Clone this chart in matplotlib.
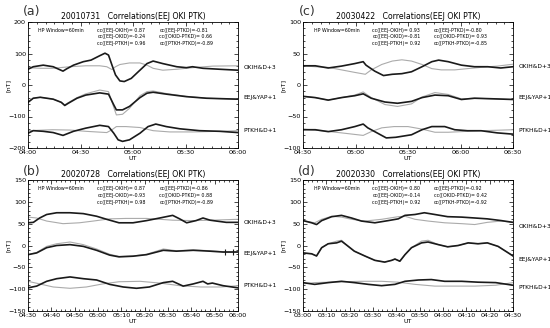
import matplotlib
matplotlib.use('Agg')
import matplotlib.pyplot as plt
from matplotlib.ticker import MultipleLocator

plt.rcParams['font.family'] = ['Liberation Sans Narrow', 'DejaVu Sans']

# ---- panel (a) 20010731, minutes after 04:00 ----
a_okih_t = [0,3,8.7,14.4,20,22,26,31.6,36,41,44,46,48,50,52.5,55,59,63,68,71.5,77,85,90.5,94,100,109.5,120]
a_okih_v = [50,58,63,58,44,51,63,74,79,93,101,95,63,32,13,11,21,42,68,76,68,58,55,58,53,50,47]
a_okid_t = [0,7,14,24,33,41,45,48,50,52.5,58,64,68,71.5,77,85,94,105.6,120]
a_okid_v = [55,53,53,58,61,61,58,49,58,65,70,70,63,53,47,50,55,60,61]
a_eej_t = [0,3,7,14.4,19,21,23,28,33,41,46,49,50.5,54,58,64,68,71.5,79,90.5,102,120]
a_eej_v = [-55,-42,-39,-45,-55,-65,-58,-42,-32,-25,-29,-63,-79,-79,-68,-40,-26,-23,-29,-37,-42,-45]
a_yap_v = [-55,-42,-39,-45,-55,-63,-56,-40,-28,-16,-21,-71,-95,-93,-74,-34,-21,-19,-27,-36,-42,-45]
a_ptkh_t = [0,3,8.7,14.4,20,26,33,41,46,49,51.5,54,58,64,68.6,73,79,86.7,98,109.5,120]
a_ptkh_v = [-153,-145,-147,-151,-160,-147,-137,-128,-132,-153,-174,-179,-174,-153,-132,-124,-132,-139,-145,-147,-151]
a_ptkd_t = [0,14,24,33,45,48,50.5,56,64,71.5,81,94,109.5,120]
a_ptkd_v = [-145,-142,-143,-147,-151,-142,-132,-132,-135,-145,-149,-149,-147,-145]

# ---- panel (c) 20030422, minutes after 04:30 ----
c_okih_t = [0,7,14.4,22,29.6,34.4,36,41,46,51,56.5,62,68,73.6,77.5,83,90.5,98,105.6,113,120]
c_okih_v = [30.5,30.5,27,30,34,37,31.5,22,15,17,18,21,29,37,39.5,37,31.5,29,29,27,29]
c_okid_t = [0,7,14.4,22,29.6,35.6,39,45,51,56.5,62,68,73.6,79,86.7,94,101.8,111,120]
c_okid_v = [30.5,29,28,24,20,17,24,32.6,38,40,38,32.6,26,24,24,26,28,30,33]
c_eej_t = [0,7,14.4,22,29.6,34.4,39,46.8,54,62,68,75.4,83,90.5,98,109.5,120]
c_eej_v = [-18,-20,-24,-20,-17,-14,-21,-27,-29,-26,-20,-16,-17,-23,-21,-22,-23]
c_yap_v = [-18,-20,-24,-20,-16,-11,-20,-31,-34,-30,-19,-12,-15,-22,-21,-22,-23]
c_ptkh_t = [0,7,14.4,22,29.6,34.4,37,42.3,47.6,53,62,68,73.6,81,86.7,94,101.8,111,120]
c_ptkh_v = [-71,-71,-74,-71,-66,-62,-68,-76,-84,-83,-79,-71,-66,-66,-71,-72.6,-72.6,-76,-78]
c_ptkd_t = [0,10.6,22,34.4,39,45,52,60,68,75.4,83,90.5,101.8,120]
c_ptkd_v = [-70,-72.6,-76,-80,-74,-68,-66,-66,-70,-75,-75,-74,-72.6,-71]

# ---- panel (b) 20020728, minutes after 04:30 ----
b_okih_t = [0,2.3,5,8,12.3,18,23.7,29.4,33.7,39,45,50.8,56.5,62,65,68,72,75,78,80.7,85,90]
b_okih_v = [52,53,63,71,75,75,73,67,60,52,52,57,63,69,61,52,57,63,58,56,53,53]
b_okid_t = [0,3.7,8,15,22,28,35,42,50.8,56.5,62,70.8,79,90]
b_okid_v = [65,63,56,50,52,56,61,62,62,60,58,57,58,60]
b_eej_t = [0,3.7,8,12.3,18,23.7,29.4,35,39,45,50.8,58,63.6,70.8,78,83.6,90]
b_eej_v = [-21,-17,-5,0,2,-2,-11,-22,-26,-24.5,-21,-11,-13,-11,-13,-15,-15]
b_yap_v = [-21,-16,-2,4,8,2,-8,-20,-25,-24,-20,-8,-12,-10,-12,-14,-14]
b_ptkh_t = [0,3.7,8,12.3,18,23.7,29.4,35,40.8,46.5,52,58,62,66.5,70.8,75,77,79,83.6,90]
b_ptkh_v = [-97,-93,-82,-76,-72,-76,-79,-89,-95,-98,-95,-85,-82,-93,-88,-82,-88,-86,-92,-97]
b_ptkd_t = [0,5,10.8,18,25,32,39,48,56.5,65,74,82.6,90]
b_ptkd_v = [-82,-88,-95,-98,-95,-88,-83,-82,-86,-92,-95,-95,-92]
b_bar_t = [84.3,87.9]
b_bar_v = [-15,-15]

# ---- panel (d) 20020330, minutes after 03:00 ----
d_okih_t = [0,3.7,5.8,8,12.3,16.5,20.8,25,30.8,36.5,40.8,43.7,48,52,56.5,62,68,73.6,79,85,90]
d_okih_v = [57,52,48,57,66,69,63,56,52,57,61,69,71,75,71,66,65,63,61,57,53]
d_okid_t = [0,5,8,12.3,16.5,20.8,26.5,33.7,40.8,43.7,48,53.6,60.7,68,73.6,79,85,90]
d_okid_v = [57,52,60,67,65,60,56,60,66,67,60,56,52,50,48,53,56,53]
d_eej_t = [0,3.7,5.8,8,10.8,14.4,16.5,19.4,22,26.5,30.8,35,38,39.4,41.5,43.7,46.5,50.8,53.6,58,62,66.5,70.8,75,79,83.6,88,90]
d_eej_v = [-17,-19,-24,-5,4,6,10,-2,-13,-24,-34,-38,-34,-31,-36,-21,-5,6,8,2,-3,0,6,4,6,-2,-17,-24]
d_yap_v = [-17,-19,-24,-5,4,10,12,-2,-13,-24,-34,-38,-34,-31,-36,-21,-5,10,12,2,-3,0,6,4,6,-2,-17,-24]
d_ptkh_t = [0,5,10.8,16.5,22,28,33.7,39.4,43.7,49.5,55,60.7,68,75,82.6,90]
d_ptkh_v = [-85,-89,-85,-82,-85,-89,-92,-89,-82,-79,-78,-82,-82,-84,-85,-91]
d_ptkd_t = [0,5,10.8,18,25,33.7,40.8,48,56.5,65,73.6,82.6,90]
d_ptkd_v = [-88,-85,-84,-83,-82,-82,-84,-89,-93,-93,-93,-91,-85]

# titles, correlation texts, ticks
titles = {'a': '20010731   Correlations(EEJ OKI PTK)', 'b': '20020728   Correlations(EEJ OKI PTK)',
          'c': '20030422   Correlations(EEJ OKI PTK)', 'd': '20020330   Correlations(EEJ OKI PTK)'}
cc_left = {'a': ['cc([EEJ-OKIH)= 0.87', 'cc([EEJ-OKID)=-0.24', 'cc([EEJ-PTKH)= 0.96'],
           'b': ['cc([EEJ-OKIH)= 0.87', 'cc([EEJ-OKID)=-0.93', 'cc([EEJ-PTKH)= 0.98'],
           'c': ['cc([EEJ-OKIH)= 0.93', 'cc([EEJ-OKID)=-0.81', 'cc([EEJ-PTKH)= 0.92'],
           'd': ['cc([EEJ-OKIH)= 0.80', 'cc([EEJ-OKID)=-0.14', 'cc([EEJ-PTKH)= 0.92']}
cc_right = {'a': ['cc([EEJ-PTKD)=-0.81', 'cc([OKID-PTKD)= 0.66', 'cc([PTKH-PTKD)=-0.89'],
            'b': ['cc([EEJ-PTKD)=-0.86', 'cc([OKID-PTKD)= 0.88', 'cc([PTKH-PTKD)=-0.89'],
            'c': ['cc([EEJ-PTKD)=-0.80', 'cc([OKID-PTKD)= 0.93', 'cc([PTKH-PTKD)=-0.85'],
            'd': ['cc([EEJ-PTKD)=-0.92', 'cc([OKID-PTKD)= 0.42', 'cc([PTKH-PTKD)=-0.92']}
a_xticks = [0,30,60,90,120]; a_xlabels = ['04:00','04:30','05:00','05:30','06:00']
c_xticks = [0,30,60,90,120]; c_xlabels = ['04:30','05:00','05:30','06:00','06:30']
b_xticks = [0,10,20,30,40,50,60,70,80,90]
b_xlabels = ['04:30','04:40','04:50','05:00','05:10','05:20','05:30','05:40','05:50','06:00']
d_xlabels = ['03:00','03:10','03:20','03:30','03:40','03:50','04:00','04:10','04:20','04:30']
a_ylim = (-200, 200); c_ylim = (-100, 100); b_ylim = (-150, 150)
label_y = {'a': [55, -40, -145], 'c': [30, -20, -73], 'b': [53, -18, -92], 'd': [44, -32, -96]}
right_names = ['OKIH&D+3', 'EEJ&YAP+1', 'PTKH&D+1']

fig = plt.figure(figsize=(5.5, 3.28), dpi=100)

def panel(key, rect, lines, xticks, xlabels, xmax, ylim, ymajor, xminor, yminor):
	ax = fig.add_axes(rect)
	for t, v, c, lw in lines:
		ax.plot(t, v, color=c, linewidth=lw)
	ax.set_xlim(0, xmax)
	ax.set_ylim(*ylim)
	ax.set_xticks(xticks)
	ax.set_xticklabels(xlabels)
	ax.yaxis.set_major_locator(MultipleLocator(ymajor))
	ax.xaxis.set_minor_locator(MultipleLocator(xminor))
	ax.yaxis.set_minor_locator(MultipleLocator(yminor))
	ax.tick_params(which='both', direction='in', top=True, right=True, labelsize=4.6, pad=1.5, width=0.5)
	ax.tick_params(which='major', length=3)
	ax.tick_params(which='minor', length=1.5)
	for s in ax.spines.values():
		s.set_linewidth(0.6)
	ax.set_title(titles[key], fontsize=5.6, pad=2)
	ax.set_ylabel('[nT]', fontsize=4.6)
	ax.yaxis.set_label_coords(-0.08, 0.5)
	ax.set_xlabel('UT', fontsize=4.6, labelpad=1)
	ax.text(0.05, 0.935, 'HP Window=60min', transform=ax.transAxes, fontsize=3.4, va='center')
	for i in range(3):
		ax.text(0.33, 0.935 - i*0.052, cc_left[key][i], transform=ax.transAxes, fontsize=3.4, va='center')
		ax.text(0.625, 0.935 - i*0.052, cc_right[key][i], transform=ax.transAxes, fontsize=3.4, va='center')
		ax.text(xmax*1.025, label_y[key][i], right_names[i], fontsize=4.2, va='center', clip_on=False)
	return ax

dark = '#1a1a1a'; grey = '#ababab'
wa = 210/550.0
panel('a', [28/550.0, 1-148/328.0, wa, 126/328.0],
      [(a_okid_t, a_okid_v, grey, 0.8), (a_okih_t, a_okih_v, dark, 1.2),
       (a_eej_t, a_yap_v, grey, 0.8), (a_eej_t, a_eej_v, dark, 1.2),
       (a_ptkd_t, a_ptkd_v, grey, 0.8), (a_ptkh_t, a_ptkh_v, dark, 1.2)],
      a_xticks, a_xlabels, 120, a_ylim, 100, 5, 20)
panel('c', [303/550.0, 1-148/328.0, wa, 126/328.0],
      [(c_okid_t, c_okid_v, grey, 0.8), (c_okih_t, c_okih_v, dark, 1.2),
       (c_eej_t, c_yap_v, grey, 0.8), (c_eej_t, c_eej_v, dark, 1.2),
       (c_ptkd_t, c_ptkd_v, grey, 0.8), (c_ptkh_t, c_ptkh_v, dark, 1.2)],
      c_xticks, c_xlabels, 120, c_ylim, 50, 5, 10)
axb = panel('b', [28/550.0, 1-311/328.0, wa, 131/328.0],
      [(b_okid_t, b_okid_v, grey, 0.8), (b_okih_t, b_okih_v, dark, 1.2),
       (b_eej_t, b_yap_v, grey, 0.8), (b_eej_t, b_eej_v, dark, 1.2),
       (b_ptkd_t, b_ptkd_v, grey, 0.8), (b_ptkh_t, b_ptkh_v, dark, 1.2)],
      b_xticks, b_xlabels, 90, b_ylim, 50, 2, 10)
axb.plot(b_bar_t, b_bar_v, linestyle='none', marker='|', markersize=4, color=dark, markeredgewidth=0.8)
panel('d', [303/550.0, 1-311/328.0, wa, 131/328.0],
      [(d_okid_t, d_okid_v, grey, 0.8), (d_okih_t, d_okih_v, dark, 1.2),
       (d_eej_t, d_yap_v, grey, 0.8), (d_eej_t, d_eej_v, dark, 1.2),
       (d_ptkd_t, d_ptkd_v, grey, 0.8), (d_ptkh_t, d_ptkh_v, dark, 1.2)],
      b_xticks, d_xlabels, 90, b_ylim, 50, 2, 10)

for lab, x, y in [('(a)', 32, 12), ('(c)', 307, 12), ('(b)', 32, 171), ('(d)', 307, 171)]:
	fig.text(x/550.0, 1-y/328.0, lab, fontsize=9, ha='center', va='center', color='#333333', family='DejaVu Sans')

fig.savefig('out.png', dpi=100)
